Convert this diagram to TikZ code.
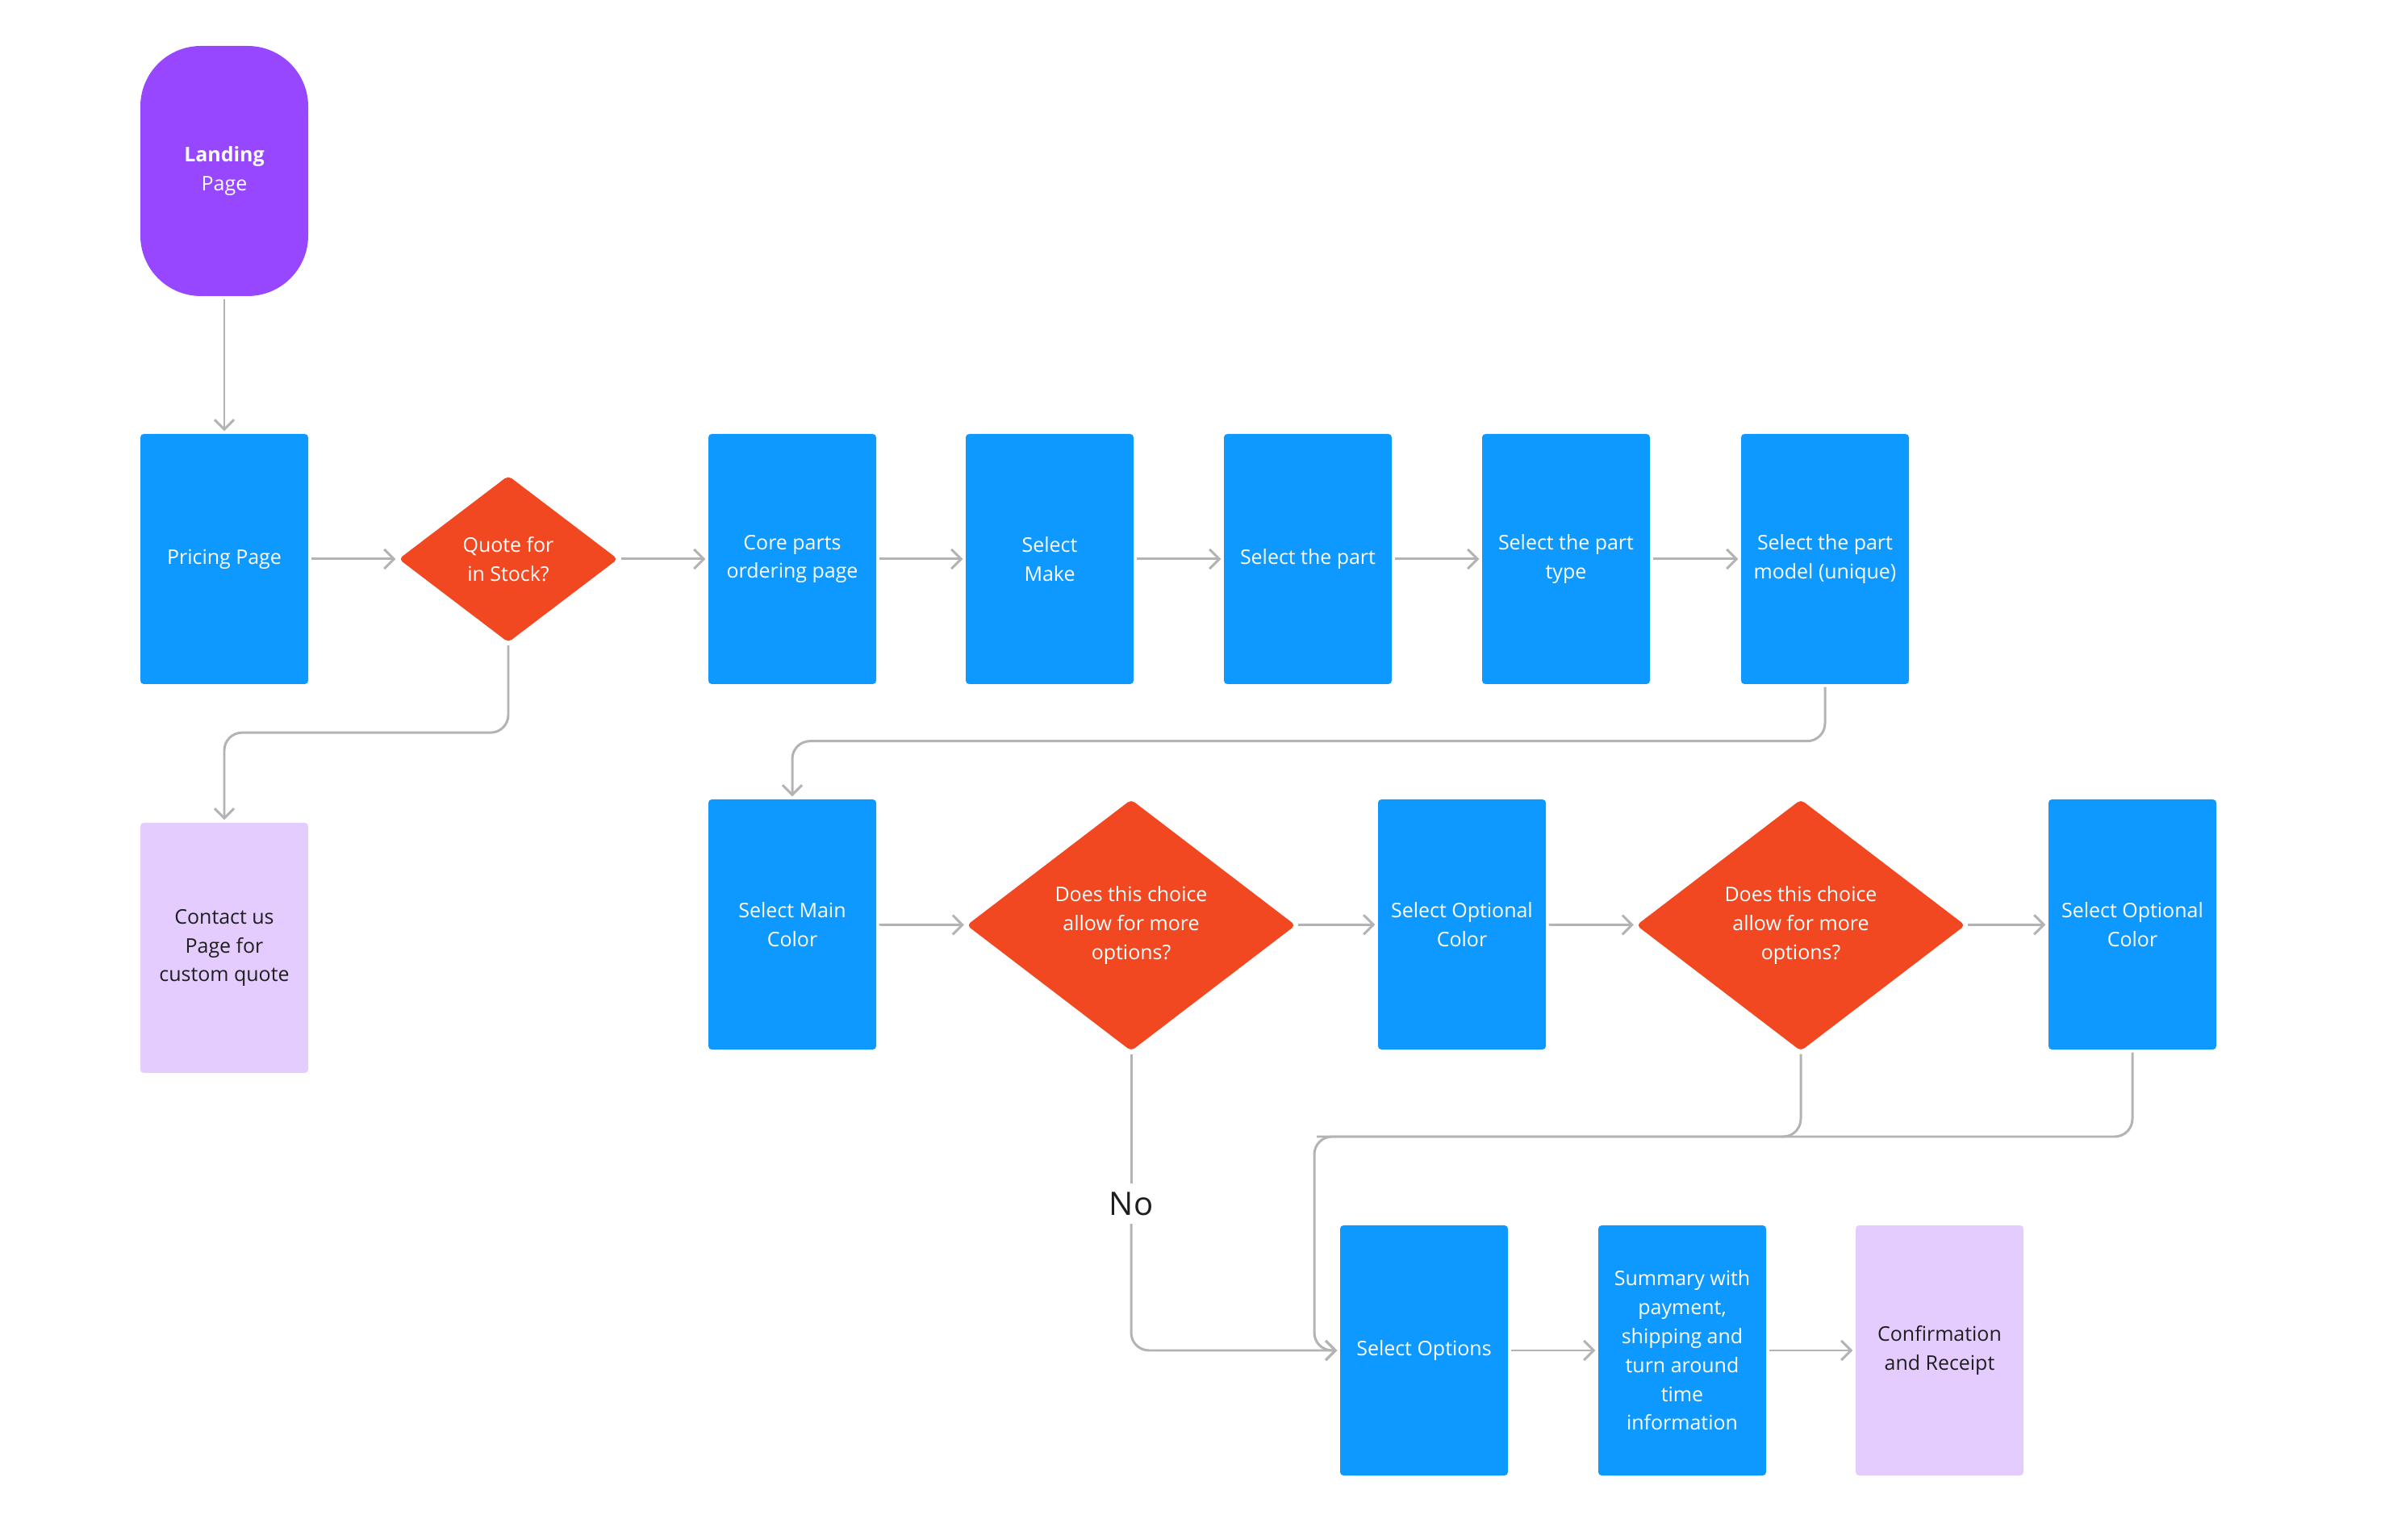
\documentclass[tikz,border=0pt]{standalone}
\usepackage{fontspec}
\setmainfont{Open Sans}
\usetikzlibrary{arrows.meta, shapes.geometric}
\definecolor{stepblue}{RGB}{13, 153, 255}
\definecolor{choicered}{RGB}{242, 72, 34}
\definecolor{startpurple}{RGB}{151, 71, 255}
\definecolor{endlilac}{RGB}{228, 204, 255}
\definecolor{flowgray}{RGB}{179, 179, 179}
\definecolor{inkdark}{RGB}{30, 30, 30}

\begin{document}
\begin{tikzpicture}[
          stepbox/.style={fill=stepblue, shape=rectangle, rounded corners=1.2pt, minimum width=2.08cm, minimum height=3.1cm, text=white, align=center, font=\fontsize{7.1}{10.2}\selectfont, inner sep=0pt},
          startbox/.style={stepbox, fill=startpurple, rounded corners=0.75cm},
          endbox/.style={stepbox, fill=endlilac, text=inkdark},
          choicebox/.style={fill=choicered, shape=diamond, rounded corners=1.5pt, text=white, align=center, font=\fontsize{7.1}{10.2}\selectfont, inner sep=0pt},
          nolabel/.style={fill=white, text=inkdark, font=\fontsize{11.4}{13}\selectfont, inner sep=2pt},
          flowarrow/.style={-{Straight Barb[length=0.12cm, width=0.24cm]}, line width=0.85pt, flowgray, rounded corners=0.22cm, shorten <=0.03cm, shorten >=0.03cm},
          flowline/.style={flowarrow, -}
        ]
          \useasboundingbox (0,0) rectangle (29.66,-19.09);

          % first row
          \node[startbox] (land) at (2.78, -2.12) {{\bfseries Landing}\\Page};
          \node[stepbox] (price) at (2.78, -6.93) {Pricing Page};
          \node[choicebox, minimum width=2.72cm, minimum height=2.07cm] (quote) at (6.30, -6.93) {Quote for\\in Stock?};
          \node[stepbox] (core) at (9.82, -6.93) {Core parts\\ordering page};
          \node[stepbox] (make) at (13.01, -6.93) {Select\\Make};
          \node[stepbox] (part) at (16.21, -6.93) {Select the part};
          \node[stepbox] (type) at (19.41, -6.93) {Select the part\\type};
          \node[stepbox] (model) at (22.62, -6.93) {Select the part\\model (unique)};

          % second row
          \node[endbox] (contact) at (2.78, -11.75) {Contact us\\Page for\\custom quote};
          \node[stepbox] (maincol) at (9.82, -11.46) {Select Main\\Color};
          \node[choicebox, minimum width=4.08cm, minimum height=3.12cm] (choiceA) at (14.02, -11.47) {Does this choice\\allow for more\\options?};
          \node[stepbox] (optcol) at (18.12, -11.46) {Select Optional\\Color};
          \node[choicebox, minimum width=4.08cm, minimum height=3.12cm] (choiceB) at (22.32, -11.47) {Does this choice\\allow for more\\options?};
          \node[stepbox] (optcolB) at (26.43, -11.46) {Select Optional\\Color};

          % third row
          \node[stepbox] (options) at (17.65, -16.74) {Select Options};
          \node[stepbox] (summary) at (20.85, -16.74) {Summary with\\payment,\\shipping and\\turn around\\time\\information};
          \node[endbox] (confirm) at (24.04, -16.74) {Confirmation\\and Receipt};

          \node[nolabel] (no) at (14.02, -14.92) {No};
          \coordinate (merge) at (16.29, -14.09);

          \draw[flowarrow] (land) -- (price);
          \draw[flowarrow] (price) -- (quote);
          \draw[flowarrow] (quote) -- (core);
          \draw[flowarrow] (quote.south) -- ++(0,-1.11) -| (contact.north);
          \draw[flowarrow] (core) -- (make);
          \draw[flowarrow] (make) -- (part);
          \draw[flowarrow] (part) -- (type);
          \draw[flowarrow] (type) -- (model);
          \draw[flowarrow] (model.south) -- ++(0,-0.70) -| (maincol.north);
          \draw[flowarrow] (maincol) -- (choiceA);
          \draw[flowarrow] (choiceA) -- (optcol);
          \draw[flowarrow] (optcol) -- (choiceB);
          \draw[flowarrow] (choiceB) -- (optcolB);
          \draw[flowline] (choiceA.south) -- (no.north);
          \draw[flowarrow] (no.south) |- (options.west);
          \draw[flowarrow] (choiceB.south) |- (merge) |- (options.west);
          \draw[flowline] (optcolB.south) |- (merge);
          \draw[flowarrow] (options) -- (summary);
          \draw[flowarrow] (summary) -- (confirm);
        \end{tikzpicture}
\end{document}
